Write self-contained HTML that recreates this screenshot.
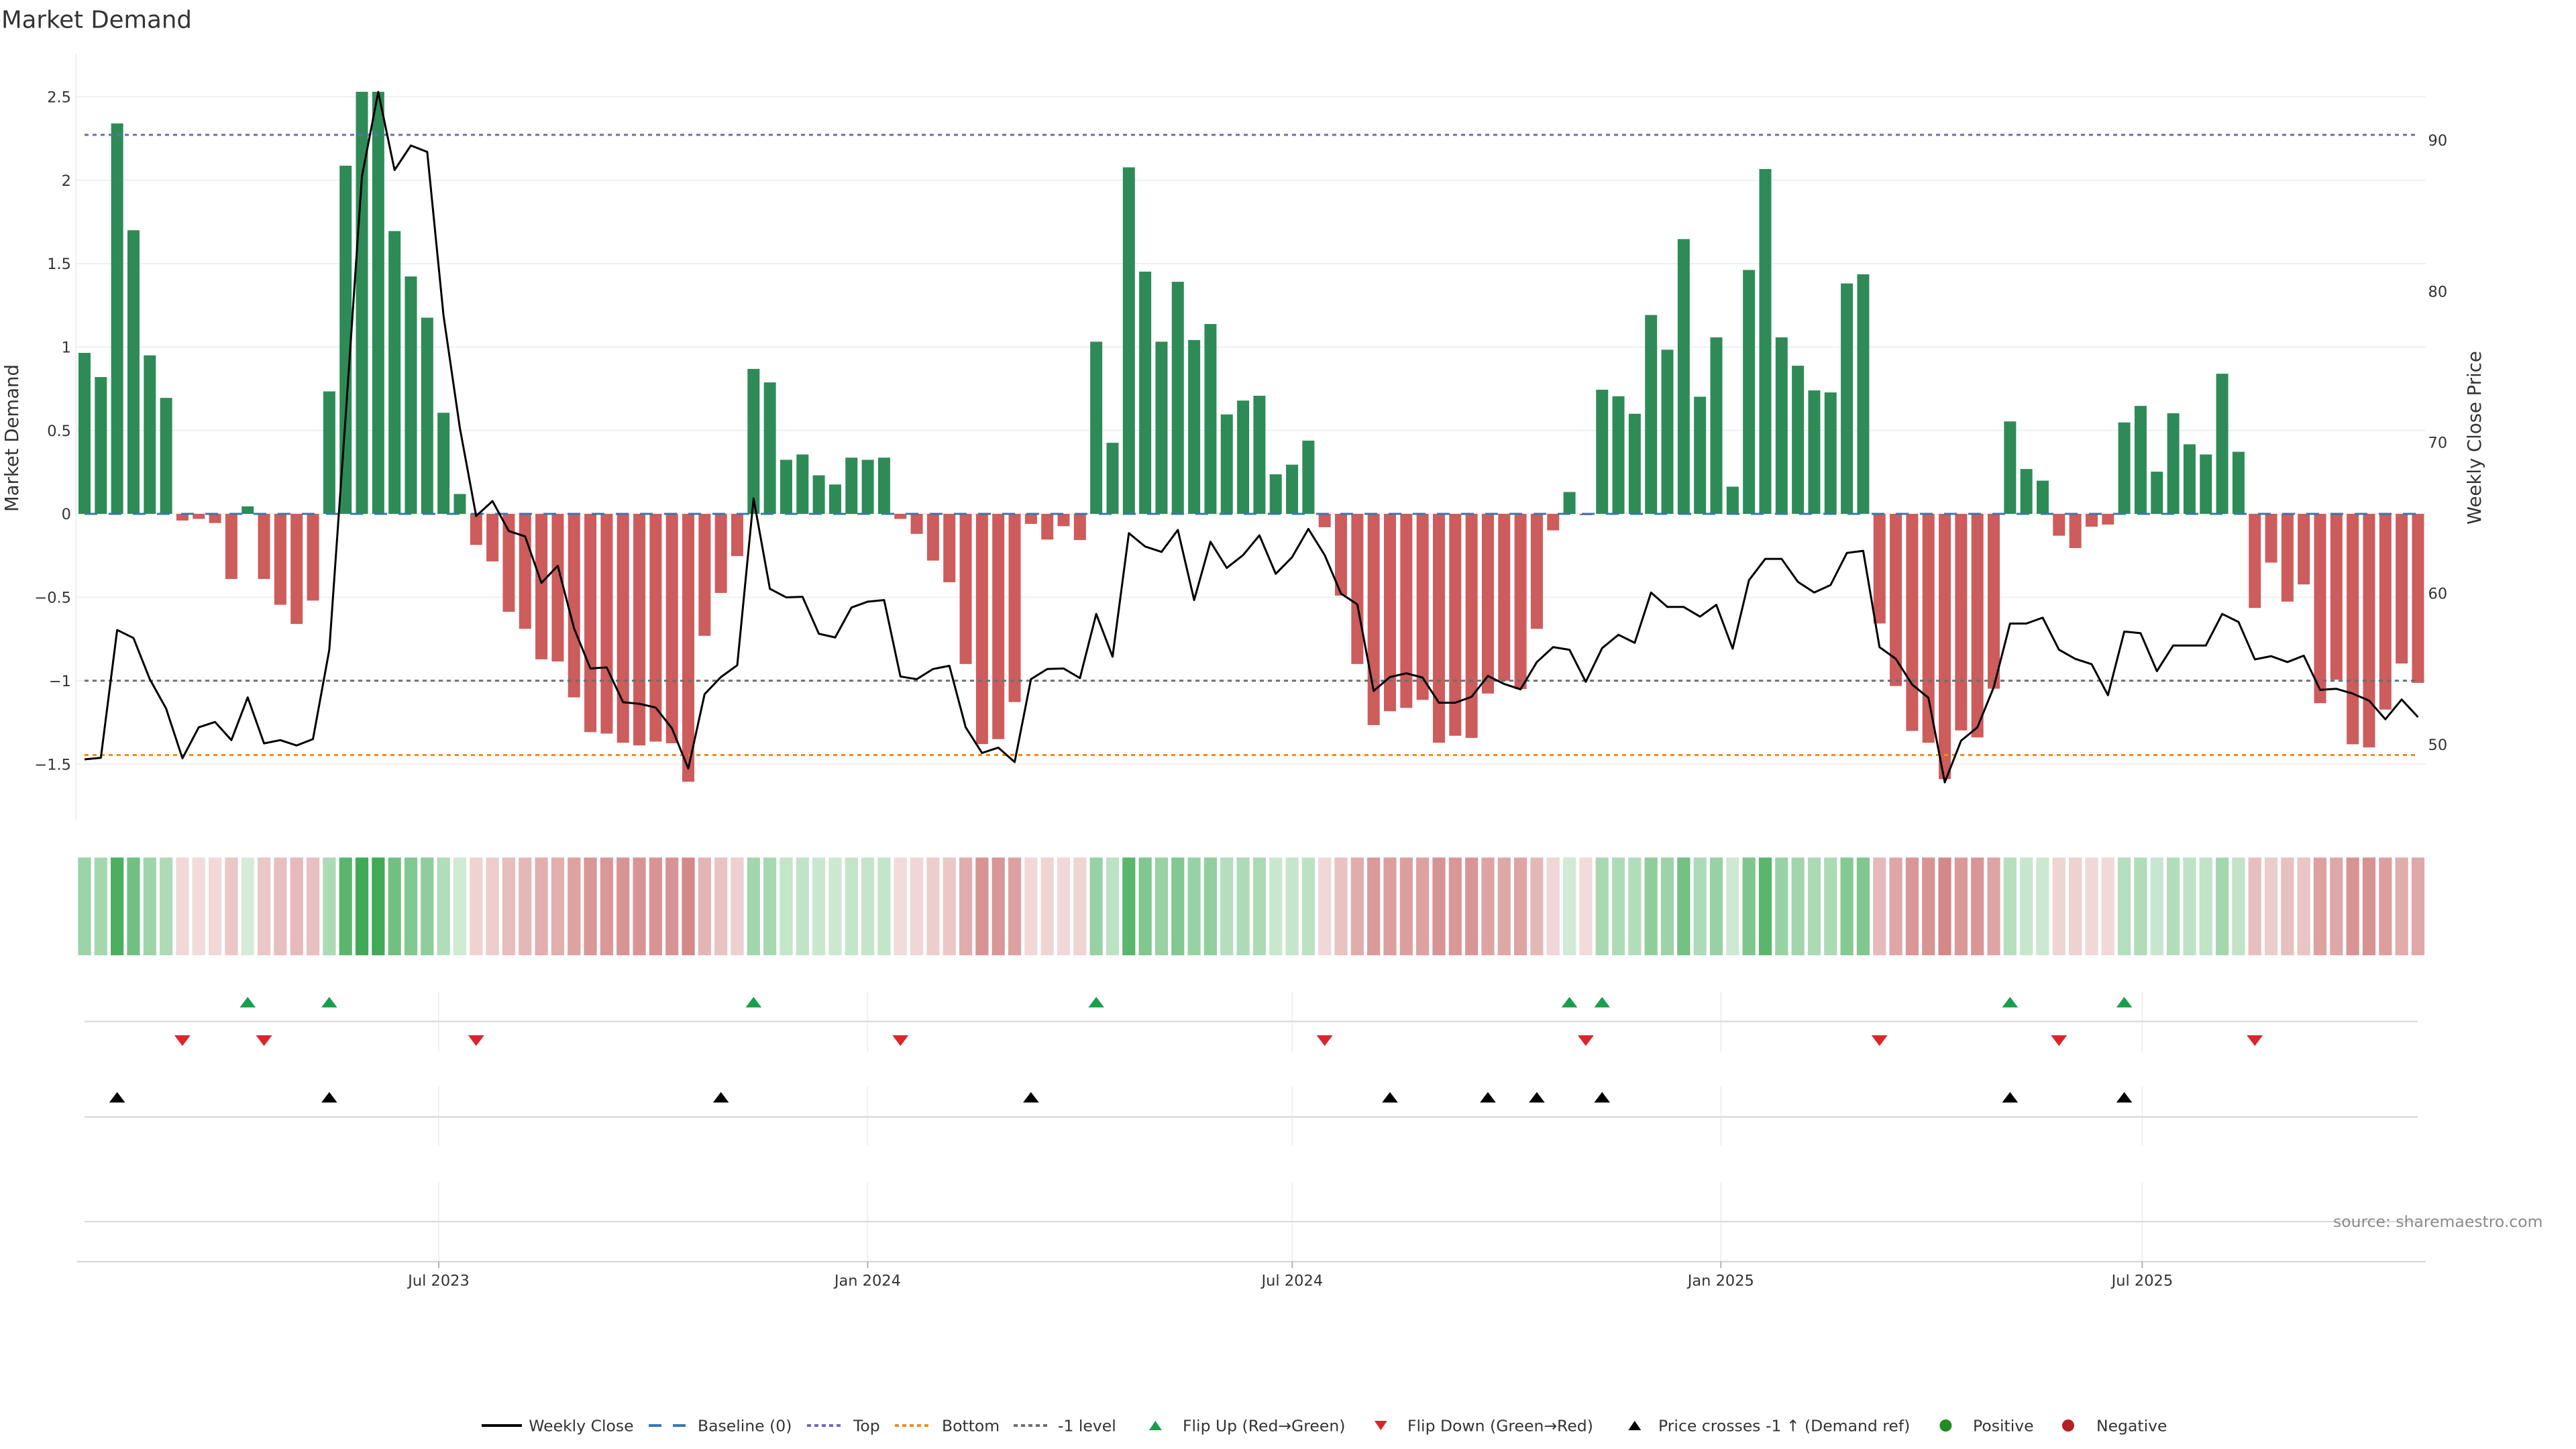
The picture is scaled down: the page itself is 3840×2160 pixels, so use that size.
<!DOCTYPE html>
<html><head><meta charset="utf-8"><style>html,body{margin:0;padding:0;background:#fff;}svg{display:block;}</style></head>
<body>
<svg xmlns="http://www.w3.org/2000/svg" width="3840" height="2160" viewBox="0 0 3840 2160" font-family="'DejaVu Sans','Liberation Sans',sans-serif">
<defs>
<path id="tu" d="M0,-7.85 L11.8,7.85 L-11.8,7.85Z"/>
<path id="td" d="M-12,-8 L12,-8 L0,8Z"/>
<path id="tuL" d="M0,-7 L9.5,7 L-9.5,7Z"/>
<path id="tdL" d="M-9.5,-7 L9.5,-7 L0,7Z"/>
</defs>
<rect width="3840" height="2160" fill="#fff"/>
<text x="2" y="41.5" font-size="35.5" fill="#333">Market Demand</text>

<!-- grid -->
<g stroke="#edf0f4" stroke-width="2">
<line x1="113.3" x2="3616" y1="144.25" y2="144.25"/>
<line x1="113.3" x2="3616" y1="268.6" y2="268.6"/>
<line x1="113.3" x2="3616" y1="392.95" y2="392.95"/>
<line x1="113.3" x2="3616" y1="517.3" y2="517.3"/>
<line x1="113.3" x2="3616" y1="641.65" y2="641.65"/>
<line x1="113.3" x2="3616" y1="766" y2="766"/>
<line x1="113.3" x2="3616" y1="890.35" y2="890.35"/>
<line x1="113.3" x2="3616" y1="1014.7" y2="1014.7"/>
<line x1="113.3" x2="3616" y1="1139.05" y2="1139.05"/>
<line x1="113.3" x2="113.3" y1="79.7" y2="1222"/>
</g>

<!-- left ticks -->
<g font-size="22.5" fill="#333" text-anchor="end">
<text x="106" y="152.5">2.5</text>
<text x="106" y="276.8">2</text>
<text x="106" y="401.2">1.5</text>
<text x="106" y="525.5">1</text>
<text x="106" y="649.9">0.5</text>
<text x="106" y="774.2">0</text>
<text x="106" y="898.6">−0.5</text>
<text x="106" y="1022.9">−1</text>
<text x="106" y="1147.3">−1.5</text>
</g>
<!-- right ticks -->
<g font-size="22.5" fill="#333">
<text x="3619.5" y="217.1">90</text>
<text x="3619.5" y="442.3">80</text>
<text x="3619.5" y="667.5">70</text>
<text x="3619.5" y="892.7">60</text>
<text x="3619.5" y="1117.9">50</text>
</g>
<text transform="translate(27,653) rotate(-90)" text-anchor="middle" font-size="27.5" fill="#333">Market Demand</text>
<text transform="translate(3698,652.6) rotate(-90)" text-anchor="middle" font-size="27.5" fill="#333">Weekly Close Price</text>

<!-- bars -->
<g transform="matrix(24.325 0 0 -248.7 101.675 766)">
<g fill="#2e8b57">
<rect x="0.63" width=".74" height=".965"/>
<rect x="1.63" width=".74" height=".82"/>
<rect x="2.63" width=".74" height="2.34"/>
<rect x="3.63" width=".74" height="1.70"/>
<rect x="4.63" width=".74" height=".95"/>
<rect x="5.63" width=".74" height=".695"/>
<rect x="10.63" width=".74" height=".045"/>
<rect x="15.63" width=".74" height=".734"/>
<rect x="16.63" width=".74" height="2.087"/>
<rect x="17.63" width=".74" height="2.53"/>
<rect x="18.63" width=".74" height="2.53"/>
<rect x="19.63" width=".74" height="1.695"/>
<rect x="20.63" width=".74" height="1.423"/>
<rect x="21.63" width=".74" height="1.176"/>
<rect x="22.63" width=".74" height=".606"/>
<rect x="23.63" width=".74" height=".119"/>
<rect x="41.63" width=".74" height=".869"/>
<rect x="42.63" width=".74" height=".788"/>
<rect x="43.63" width=".74" height=".324"/>
<rect x="44.63" width=".74" height=".356"/>
<rect x="45.63" width=".74" height=".231"/>
<rect x="46.63" width=".74" height=".176"/>
<rect x="47.63" width=".74" height=".337"/>
<rect x="48.63" width=".74" height=".324"/>
<rect x="49.63" width=".74" height=".337"/>
<rect x="62.63" width=".74" height="1.032"/>
<rect x="63.63" width=".74" height=".426"/>
<rect x="64.63" width=".74" height="2.077"/>
<rect x="65.63" width=".74" height="1.452"/>
<rect x="66.63" width=".74" height="1.032"/>
<rect x="67.63" width=".74" height="1.391"/>
<rect x="68.63" width=".74" height="1.042"/>
<rect x="69.63" width=".74" height="1.138"/>
<rect x="70.63" width=".74" height=".596"/>
<rect x="71.63" width=".74" height=".679"/>
<rect x="72.63" width=".74" height=".708"/>
<rect x="73.63" width=".74" height=".237"/>
<rect x="74.63" width=".74" height=".295"/>
<rect x="75.63" width=".74" height=".439"/>
<rect x="91.63" width=".74" height=".131"/>
<rect x="93.63" width=".74" height=".744"/>
<rect x="94.63" width=".74" height=".705"/>
<rect x="95.63" width=".74" height=".6"/>
<rect x="96.63" width=".74" height="1.192"/>
<rect x="97.63" width=".74" height=".984"/>
<rect x="98.63" width=".74" height="1.647"/>
<rect x="99.63" width=".74" height=".702"/>
<rect x="100.63" width=".74" height="1.058"/>
<rect x="101.63" width=".74" height=".163"/>
<rect x="102.63" width=".74" height="1.462"/>
<rect x="103.63" width=".74" height="2.067"/>
<rect x="104.63" width=".74" height="1.058"/>
<rect x="105.63" width=".74" height=".888"/>
<rect x="106.63" width=".74" height=".74"/>
<rect x="107.63" width=".74" height=".728"/>
<rect x="108.63" width=".74" height="1.381"/>
<rect x="109.63" width=".74" height="1.436"/>
<rect x="118.63" width=".74" height=".554"/>
<rect x="119.63" width=".74" height=".269"/>
<rect x="120.63" width=".74" height=".199"/>
<rect x="125.63" width=".74" height=".548"/>
<rect x="126.63" width=".74" height=".647"/>
<rect x="127.63" width=".74" height=".253"/>
<rect x="128.63" width=".74" height=".603"/>
<rect x="129.63" width=".74" height=".417"/>
<rect x="130.63" width=".74" height=".356"/>
<rect x="131.63" width=".74" height=".84"/>
<rect x="132.63" width=".74" height=".372"/>
</g>
<g fill="#cd5c5c">
<rect x="6.63" y="-.04" width=".74" height=".04"/>
<rect x="7.63" y="-.03" width=".74" height=".03"/>
<rect x="8.63" y="-.055" width=".74" height=".055"/>
<rect x="9.63" y="-.39" width=".74" height=".39"/>
<rect x="11.63" y="-.39" width=".74" height=".39"/>
<rect x="12.63" y="-.545" width=".74" height=".545"/>
<rect x="13.63" y="-.66" width=".74" height=".66"/>
<rect x="14.63" y="-.52" width=".74" height=".52"/>
<rect x="24.63" y="-.186" width=".74" height=".186"/>
<rect x="25.63" y="-.285" width=".74" height=".285"/>
<rect x="26.63" y="-.587" width=".74" height=".587"/>
<rect x="27.63" y="-.689" width=".74" height=".689"/>
<rect x="28.63" y="-.872" width=".74" height=".872"/>
<rect x="29.63" y="-.885" width=".74" height=".885"/>
<rect x="30.63" y="-1.10" width=".74" height="1.10"/>
<rect x="31.63" y="-1.308" width=".74" height="1.308"/>
<rect x="32.63" y="-1.317" width=".74" height="1.317"/>
<rect x="33.63" y="-1.372" width=".74" height="1.372"/>
<rect x="34.63" y="-1.388" width=".74" height="1.388"/>
<rect x="35.63" y="-1.365" width=".74" height="1.365"/>
<rect x="36.63" y="-1.375" width=".74" height="1.375"/>
<rect x="37.63" y="-1.606" width=".74" height="1.606"/>
<rect x="38.63" y="-.731" width=".74" height=".731"/>
<rect x="39.63" y="-.474" width=".74" height=".474"/>
<rect x="40.63" y="-.253" width=".74" height=".253"/>
<rect x="50.63" y="-.03" width=".74" height=".03"/>
<rect x="51.63" y="-.12" width=".74" height=".12"/>
<rect x="52.63" y="-.28" width=".74" height=".28"/>
<rect x="53.63" y="-.41" width=".74" height=".41"/>
<rect x="54.63" y="-.90" width=".74" height=".90"/>
<rect x="55.63" y="-1.38" width=".74" height="1.38"/>
<rect x="56.63" y="-1.35" width=".74" height="1.35"/>
<rect x="57.63" y="-1.128" width=".74" height="1.128"/>
<rect x="58.63" y="-.06" width=".74" height=".06"/>
<rect x="59.63" y="-.154" width=".74" height=".154"/>
<rect x="60.63" y="-.074" width=".74" height=".074"/>
<rect x="61.63" y="-.157" width=".74" height=".157"/>
<rect x="76.63" y="-.08" width=".74" height=".08"/>
<rect x="77.63" y="-.49" width=".74" height=".49"/>
<rect x="78.63" y="-.90" width=".74" height=".90"/>
<rect x="79.63" y="-1.266" width=".74" height="1.266"/>
<rect x="80.63" y="-1.183" width=".74" height="1.183"/>
<rect x="81.63" y="-1.163" width=".74" height="1.163"/>
<rect x="82.63" y="-1.115" width=".74" height="1.115"/>
<rect x="83.63" y="-1.372" width=".74" height="1.372"/>
<rect x="84.63" y="-1.33" width=".74" height="1.33"/>
<rect x="85.63" y="-1.343" width=".74" height="1.343"/>
<rect x="86.63" y="-1.077" width=".74" height="1.077"/>
<rect x="87.63" y="-1.0" width=".74" height="1.0"/>
<rect x="88.63" y="-1.05" width=".74" height="1.05"/>
<rect x="89.63" y="-.689" width=".74" height=".689"/>
<rect x="90.63" y="-.099" width=".74" height=".099"/>
<rect x="92.63" y="-.008" width=".74" height=".008"/>
<rect x="110.63" y="-.657" width=".74" height=".657"/>
<rect x="111.63" y="-1.032" width=".74" height="1.032"/>
<rect x="112.63" y="-1.301" width=".74" height="1.301"/>
<rect x="113.63" y="-1.372" width=".74" height="1.372"/>
<rect x="114.63" y="-1.59" width=".74" height="1.59"/>
<rect x="115.63" y="-1.298" width=".74" height="1.298"/>
<rect x="116.63" y="-1.34" width=".74" height="1.34"/>
<rect x="117.63" y="-1.048" width=".74" height="1.048"/>
<rect x="121.63" y="-.131" width=".74" height=".131"/>
<rect x="122.63" y="-.205" width=".74" height=".205"/>
<rect x="123.63" y="-.077" width=".74" height=".077"/>
<rect x="124.63" y="-.064" width=".74" height=".064"/>
<rect x="133.63" y="-.564" width=".74" height=".564"/>
<rect x="134.63" y="-.292" width=".74" height=".292"/>
<rect x="135.63" y="-.526" width=".74" height=".526"/>
<rect x="136.63" y="-.423" width=".74" height=".423"/>
<rect x="137.63" y="-1.135" width=".74" height="1.135"/>
<rect x="138.63" y="-.994" width=".74" height=".994"/>
<rect x="139.63" y="-1.381" width=".74" height="1.381"/>
<rect x="140.63" y="-1.40" width=".74" height="1.40"/>
<rect x="141.63" y="-1.173" width=".74" height="1.173"/>
<rect x="142.63" y="-.897" width=".74" height=".897"/>
<rect x="143.63" y="-1.013" width=".74" height="1.013"/>
</g>
</g>

<!-- reference lines -->
<line x1="126" x2="3604" y1="766" y2="766" stroke="#3579b1" stroke-width="3" stroke-dasharray="19 17"/>
<line x1="126" x2="3604" y1="201" y2="201" stroke="#7466b8" stroke-width="3" stroke-dasharray="6 6"/>
<line x1="126" x2="3604" y1="1125.5" y2="1125.5" stroke="#f28a1e" stroke-width="3" stroke-dasharray="6 6"/>
<line x1="126" x2="3604" y1="1014.7" y2="1014.7" stroke="#6e6e6e" stroke-width="3" stroke-dasharray="6 6"/>

<!-- price line -->
<g transform="matrix(24.325 0 0 0.79719 101.675 0)">
<polyline fill="none" stroke="#000" stroke-width="3" stroke-linejoin="round" vector-effect="non-scaling-stroke" points="1,1420 2,1417 3,1178 4,1193 5,1270 6,1325 7,1418 8,1360 9,1350 10,1384 11,1304 12,1390 13,1384 14,1394 15,1382 16,1215 17,780 18,330 19,172 20,318 21,272 22,284 23,590 24,800 25,965 26,937 27,993 28,1003 29,1090 30,1058 31,1175 32,1250 33,1248 34,1313 35,1316 36,1323 37,1362 38,1437 39,1298 40,1266 41,1244 42,932 43,1101 44,1117 45,1116 46,1185 47,1192 48,1136 49,1125 50,1122 51,1265 52,1270 53,1251 54,1245 55,1360 56,1408 57,1398 58,1425 59,1270 60,1251 61,1250 62,1268 63,1148 64,1228 65,997 66,1022 67,1032 68,991 69,1122 70,1013 71,1062 72,1038 73,1001 74,1073 75,1042 76,989 77,1038 78,1110 79,1130 80,1292 81,1266 82,1259 83,1267 84,1314 85,1314 86,1303 87,1264 88,1279 89,1289 90,1238 91,1210 92,1215 93,1275 94,1212 95,1187 96,1202 97,1108 98,1135 99,1135 100,1153 101,1131 102,1213 103,1085 104,1045 105,1045 106,1088 107,1108 108,1094 109,1034 110,1030 111,1210 112,1232 113,1280 114,1305 115,1463 116,1385 117,1360 118,1285 119,1166 120,1166 121,1155 122,1215 123,1232 124,1242 125,1300 126,1181 127,1184 128,1255 129,1207 130,1207 131,1207 132,1148 133,1163 134,1233 135,1227 136,1238 137,1226 138,1290 139,1288 140,1297 141,1310 142,1345 143,1308 144,1341"/>
</g>

<!-- heatmap strip -->
<g transform="matrix(24.325 0 0 1 101.675 0)">
<g fill="#28a041">
<rect x="0.605" y="1278.3" width=".79" height="145.7" fill-opacity=".46"/>
<rect x="1.605" y="1278.3" width=".79" height="145.7" fill-opacity=".42"/>
<rect x="2.605" y="1278.3" width=".79" height="145.7" fill-opacity=".84"/>
<rect x="3.605" y="1278.3" width=".79" height="145.7" fill-opacity=".66"/>
<rect x="4.605" y="1278.3" width=".79" height="145.7" fill-opacity=".45"/>
<rect x="5.605" y="1278.3" width=".79" height="145.7" fill-opacity=".38"/>
<rect x="10.605" y="1278.3" width=".79" height="145.7" fill-opacity=".20"/>
<rect x="15.605" y="1278.3" width=".79" height="145.7" fill-opacity=".39"/>
<rect x="16.605" y="1278.3" width=".79" height="145.7" fill-opacity=".77"/>
<rect x="17.605" y="1278.3" width=".79" height="145.7" fill-opacity=".89"/>
<rect x="18.605" y="1278.3" width=".79" height="145.7" fill-opacity=".89"/>
<rect x="19.605" y="1278.3" width=".79" height="145.7" fill-opacity=".66"/>
<rect x="20.605" y="1278.3" width=".79" height="145.7" fill-opacity=".58"/>
<rect x="21.605" y="1278.3" width=".79" height="145.7" fill-opacity=".52"/>
<rect x="22.605" y="1278.3" width=".79" height="145.7" fill-opacity=".36"/>
<rect x="23.605" y="1278.3" width=".79" height="145.7" fill-opacity=".22"/>
<rect x="41.605" y="1278.3" width=".79" height="145.7" fill-opacity=".43"/>
<rect x="42.605" y="1278.3" width=".79" height="145.7" fill-opacity=".41"/>
<rect x="43.605" y="1278.3" width=".79" height="145.7" fill-opacity=".28"/>
<rect x="44.605" y="1278.3" width=".79" height="145.7" fill-opacity=".29"/>
<rect x="45.605" y="1278.3" width=".79" height="145.7" fill-opacity=".25"/>
<rect x="46.605" y="1278.3" width=".79" height="145.7" fill-opacity=".24"/>
<rect x="47.605" y="1278.3" width=".79" height="145.7" fill-opacity=".28"/>
<rect x="48.605" y="1278.3" width=".79" height="145.7" fill-opacity=".28"/>
<rect x="49.605" y="1278.3" width=".79" height="145.7" fill-opacity=".28"/>
<rect x="62.605" y="1278.3" width=".79" height="145.7" fill-opacity=".48"/>
<rect x="63.605" y="1278.3" width=".79" height="145.7" fill-opacity=".31"/>
<rect x="64.605" y="1278.3" width=".79" height="145.7" fill-opacity=".77"/>
<rect x="65.605" y="1278.3" width=".79" height="145.7" fill-opacity=".59"/>
<rect x="66.605" y="1278.3" width=".79" height="145.7" fill-opacity=".48"/>
<rect x="67.605" y="1278.3" width=".79" height="145.7" fill-opacity=".58"/>
<rect x="68.605" y="1278.3" width=".79" height="145.7" fill-opacity=".48"/>
<rect x="69.605" y="1278.3" width=".79" height="145.7" fill-opacity=".51"/>
<rect x="70.605" y="1278.3" width=".79" height="145.7" fill-opacity=".35"/>
<rect x="71.605" y="1278.3" width=".79" height="145.7" fill-opacity=".38"/>
<rect x="72.605" y="1278.3" width=".79" height="145.7" fill-opacity=".39"/>
<rect x="73.605" y="1278.3" width=".79" height="145.7" fill-opacity=".25"/>
<rect x="74.605" y="1278.3" width=".79" height="145.7" fill-opacity=".27"/>
<rect x="75.605" y="1278.3" width=".79" height="145.7" fill-opacity=".31"/>
<rect x="91.605" y="1278.3" width=".79" height="145.7" fill-opacity=".22"/>
<rect x="93.605" y="1278.3" width=".79" height="145.7" fill-opacity=".40"/>
<rect x="94.605" y="1278.3" width=".79" height="145.7" fill-opacity=".38"/>
<rect x="95.605" y="1278.3" width=".79" height="145.7" fill-opacity=".36"/>
<rect x="96.605" y="1278.3" width=".79" height="145.7" fill-opacity=".52"/>
<rect x="97.605" y="1278.3" width=".79" height="145.7" fill-opacity=".46"/>
<rect x="98.605" y="1278.3" width=".79" height="145.7" fill-opacity=".65"/>
<rect x="99.605" y="1278.3" width=".79" height="145.7" fill-opacity=".38"/>
<rect x="100.605" y="1278.3" width=".79" height="145.7" fill-opacity=".48"/>
<rect x="101.605" y="1278.3" width=".79" height="145.7" fill-opacity=".23"/>
<rect x="102.605" y="1278.3" width=".79" height="145.7" fill-opacity=".60"/>
<rect x="103.605" y="1278.3" width=".79" height="145.7" fill-opacity=".77"/>
<rect x="104.605" y="1278.3" width=".79" height="145.7" fill-opacity=".48"/>
<rect x="105.605" y="1278.3" width=".79" height="145.7" fill-opacity=".44"/>
<rect x="106.605" y="1278.3" width=".79" height="145.7" fill-opacity=".39"/>
<rect x="107.605" y="1278.3" width=".79" height="145.7" fill-opacity=".39"/>
<rect x="108.605" y="1278.3" width=".79" height="145.7" fill-opacity=".57"/>
<rect x="109.605" y="1278.3" width=".79" height="145.7" fill-opacity=".59"/>
<rect x="118.605" y="1278.3" width=".79" height="145.7" fill-opacity=".34"/>
<rect x="119.605" y="1278.3" width=".79" height="145.7" fill-opacity=".26"/>
<rect x="120.605" y="1278.3" width=".79" height="145.7" fill-opacity=".24"/>
<rect x="125.605" y="1278.3" width=".79" height="145.7" fill-opacity=".34"/>
<rect x="126.605" y="1278.3" width=".79" height="145.7" fill-opacity=".37"/>
<rect x="127.605" y="1278.3" width=".79" height="145.7" fill-opacity=".26"/>
<rect x="128.605" y="1278.3" width=".79" height="145.7" fill-opacity=".36"/>
<rect x="129.605" y="1278.3" width=".79" height="145.7" fill-opacity=".30"/>
<rect x="130.605" y="1278.3" width=".79" height="145.7" fill-opacity=".29"/>
<rect x="131.605" y="1278.3" width=".79" height="145.7" fill-opacity=".42"/>
<rect x="132.605" y="1278.3" width=".79" height="145.7" fill-opacity=".29"/>
</g>
<g fill="#c35a5a">
<rect x="6.605" y="1278.3" width=".79" height="145.7" fill-opacity=".23"/>
<rect x="7.605" y="1278.3" width=".79" height="145.7" fill-opacity=".22"/>
<rect x="8.605" y="1278.3" width=".79" height="145.7" fill-opacity=".23"/>
<rect x="9.605" y="1278.3" width=".79" height="145.7" fill-opacity=".34"/>
<rect x="11.605" y="1278.3" width=".79" height="145.7" fill-opacity=".34"/>
<rect x="12.605" y="1278.3" width=".79" height="145.7" fill-opacity=".39"/>
<rect x="13.605" y="1278.3" width=".79" height="145.7" fill-opacity=".42"/>
<rect x="14.605" y="1278.3" width=".79" height="145.7" fill-opacity=".38"/>
<rect x="24.605" y="1278.3" width=".79" height="145.7" fill-opacity=".27"/>
<rect x="25.605" y="1278.3" width=".79" height="145.7" fill-opacity=".30"/>
<rect x="26.605" y="1278.3" width=".79" height="145.7" fill-opacity=".40"/>
<rect x="27.605" y="1278.3" width=".79" height="145.7" fill-opacity=".43"/>
<rect x="28.605" y="1278.3" width=".79" height="145.7" fill-opacity=".49"/>
<rect x="29.605" y="1278.3" width=".79" height="145.7" fill-opacity=".49"/>
<rect x="30.605" y="1278.3" width=".79" height="145.7" fill-opacity=".56"/>
<rect x="31.605" y="1278.3" width=".79" height="145.7" fill-opacity=".63"/>
<rect x="32.605" y="1278.3" width=".79" height="145.7" fill-opacity=".63"/>
<rect x="33.605" y="1278.3" width=".79" height="145.7" fill-opacity=".65"/>
<rect x="34.605" y="1278.3" width=".79" height="145.7" fill-opacity=".65"/>
<rect x="35.605" y="1278.3" width=".79" height="145.7" fill-opacity=".65"/>
<rect x="36.605" y="1278.3" width=".79" height="145.7" fill-opacity=".65"/>
<rect x="37.605" y="1278.3" width=".79" height="145.7" fill-opacity=".72"/>
<rect x="38.605" y="1278.3" width=".79" height="145.7" fill-opacity=".45"/>
<rect x="39.605" y="1278.3" width=".79" height="145.7" fill-opacity=".36"/>
<rect x="40.605" y="1278.3" width=".79" height="145.7" fill-opacity=".29"/>
<rect x="50.605" y="1278.3" width=".79" height="145.7" fill-opacity=".22"/>
<rect x="51.605" y="1278.3" width=".79" height="145.7" fill-opacity=".25"/>
<rect x="52.605" y="1278.3" width=".79" height="145.7" fill-opacity=".30"/>
<rect x="53.605" y="1278.3" width=".79" height="145.7" fill-opacity=".34"/>
<rect x="54.605" y="1278.3" width=".79" height="145.7" fill-opacity=".50"/>
<rect x="55.605" y="1278.3" width=".79" height="145.7" fill-opacity=".65"/>
<rect x="56.605" y="1278.3" width=".79" height="145.7" fill-opacity=".64"/>
<rect x="57.605" y="1278.3" width=".79" height="145.7" fill-opacity=".57"/>
<rect x="58.605" y="1278.3" width=".79" height="145.7" fill-opacity=".23"/>
<rect x="59.605" y="1278.3" width=".79" height="145.7" fill-opacity=".26"/>
<rect x="60.605" y="1278.3" width=".79" height="145.7" fill-opacity=".24"/>
<rect x="61.605" y="1278.3" width=".79" height="145.7" fill-opacity=".26"/>
<rect x="76.605" y="1278.3" width=".79" height="145.7" fill-opacity=".24"/>
<rect x="77.605" y="1278.3" width=".79" height="145.7" fill-opacity=".37"/>
<rect x="78.605" y="1278.3" width=".79" height="145.7" fill-opacity=".50"/>
<rect x="79.605" y="1278.3" width=".79" height="145.7" fill-opacity=".61"/>
<rect x="80.605" y="1278.3" width=".79" height="145.7" fill-opacity=".59"/>
<rect x="81.605" y="1278.3" width=".79" height="145.7" fill-opacity=".58"/>
<rect x="82.605" y="1278.3" width=".79" height="145.7" fill-opacity=".57"/>
<rect x="83.605" y="1278.3" width=".79" height="145.7" fill-opacity=".65"/>
<rect x="84.605" y="1278.3" width=".79" height="145.7" fill-opacity=".63"/>
<rect x="85.605" y="1278.3" width=".79" height="145.7" fill-opacity=".64"/>
<rect x="86.605" y="1278.3" width=".79" height="145.7" fill-opacity=".55"/>
<rect x="87.605" y="1278.3" width=".79" height="145.7" fill-opacity=".53"/>
<rect x="88.605" y="1278.3" width=".79" height="145.7" fill-opacity=".55"/>
<rect x="89.605" y="1278.3" width=".79" height="145.7" fill-opacity=".43"/>
<rect x="90.605" y="1278.3" width=".79" height="145.7" fill-opacity=".25"/>
<rect x="92.605" y="1278.3" width=".79" height="145.7" fill-opacity=".22"/>
<rect x="110.605" y="1278.3" width=".79" height="145.7" fill-opacity=".42"/>
<rect x="111.605" y="1278.3" width=".79" height="145.7" fill-opacity=".54"/>
<rect x="112.605" y="1278.3" width=".79" height="145.7" fill-opacity=".63"/>
<rect x="113.605" y="1278.3" width=".79" height="145.7" fill-opacity=".65"/>
<rect x="114.605" y="1278.3" width=".79" height="145.7" fill-opacity=".72"/>
<rect x="115.605" y="1278.3" width=".79" height="145.7" fill-opacity=".62"/>
<rect x="116.605" y="1278.3" width=".79" height="145.7" fill-opacity=".64"/>
<rect x="117.605" y="1278.3" width=".79" height="145.7" fill-opacity=".55"/>
<rect x="121.605" y="1278.3" width=".79" height="145.7" fill-opacity=".26"/>
<rect x="122.605" y="1278.3" width=".79" height="145.7" fill-opacity=".28"/>
<rect x="123.605" y="1278.3" width=".79" height="145.7" fill-opacity=".24"/>
<rect x="124.605" y="1278.3" width=".79" height="145.7" fill-opacity=".23"/>
<rect x="133.605" y="1278.3" width=".79" height="145.7" fill-opacity=".39"/>
<rect x="134.605" y="1278.3" width=".79" height="145.7" fill-opacity=".31"/>
<rect x="135.605" y="1278.3" width=".79" height="145.7" fill-opacity=".38"/>
<rect x="136.605" y="1278.3" width=".79" height="145.7" fill-opacity=".35"/>
<rect x="137.605" y="1278.3" width=".79" height="145.7" fill-opacity=".57"/>
<rect x="138.605" y="1278.3" width=".79" height="145.7" fill-opacity=".53"/>
<rect x="139.605" y="1278.3" width=".79" height="145.7" fill-opacity=".65"/>
<rect x="140.605" y="1278.3" width=".79" height="145.7" fill-opacity=".66"/>
<rect x="141.605" y="1278.3" width=".79" height="145.7" fill-opacity=".58"/>
<rect x="142.605" y="1278.3" width=".79" height="145.7" fill-opacity=".50"/>
<rect x="143.605" y="1278.3" width=".79" height="145.7" fill-opacity=".53"/>
</g>
</g>

<!-- marker subplots: vertical grid -->
<g stroke="#eef0f4" stroke-width="2">
<line x1="654" x2="654" y1="1478" y2="1567.5"/><line x1="1293.4" x2="1293.4" y1="1478" y2="1567.5"/><line x1="1926.3" x2="1926.3" y1="1478" y2="1567.5"/><line x1="2565.3" x2="2565.3" y1="1478" y2="1567.5"/><line x1="3193.4" x2="3193.4" y1="1478" y2="1567.5"/>
<line x1="654" x2="654" y1="1619" y2="1707.5"/><line x1="1293.4" x2="1293.4" y1="1619" y2="1707.5"/><line x1="1926.3" x2="1926.3" y1="1619" y2="1707.5"/><line x1="2565.3" x2="2565.3" y1="1619" y2="1707.5"/><line x1="3193.4" x2="3193.4" y1="1619" y2="1707.5"/>
<line x1="654" x2="654" y1="1762.6" y2="1880.6"/><line x1="1293.4" x2="1293.4" y1="1762.6" y2="1880.6"/><line x1="1926.3" x2="1926.3" y1="1762.6" y2="1880.6"/><line x1="2565.3" x2="2565.3" y1="1762.6" y2="1880.6"/><line x1="3193.4" x2="3193.4" y1="1762.6" y2="1880.6"/>
</g>
<g stroke="#d9d9d9" stroke-width="2.2">
<line x1="126" x2="3604" y1="1522.7" y2="1522.7"/>
<line x1="126" x2="3604" y1="1665" y2="1665"/>
<line x1="126" x2="3604" y1="1821" y2="1821"/>
</g>
<line x1="114.4" x2="3616" y1="1880.7" y2="1880.7" stroke="#d2d2d2" stroke-width="2.2"/>
<g stroke="#b0b0b0" stroke-width="2">
<line x1="654" x2="654" y1="1880.7" y2="1890"/><line x1="1293.4" x2="1293.4" y1="1880.7" y2="1890"/><line x1="1926.3" x2="1926.3" y1="1880.7" y2="1890"/><line x1="2565.3" x2="2565.3" y1="1880.7" y2="1890"/><line x1="3193.4" x2="3193.4" y1="1880.7" y2="1890"/>
</g>
<g font-size="22.5" fill="#333" text-anchor="middle">
<text x="654" y="1916.7">Jul 2023</text>
<text x="1293.4" y="1916.7">Jan 2024</text>
<text x="1926.3" y="1916.7">Jul 2024</text>
<text x="2565.3" y="1916.7">Jan 2025</text>
<text x="3193.4" y="1916.7">Jul 2025</text>
</g>

<!-- flip up markers -->
<g fill="#1a9e4c">
<use href="#tu" x="369.25" y="1493.85"/>
<use href="#tu" x="490.875" y="1493.85"/>
<use href="#tu" x="1123.325" y="1493.85"/>
<use href="#tu" x="1634.15" y="1493.85"/>
<use href="#tu" x="2339.575" y="1493.85"/>
<use href="#tu" x="2388.225" y="1493.85"/>
<use href="#tu" x="2996.35" y="1493.85"/>
<use href="#tu" x="3166.625" y="1493.85"/>
</g>
<!-- flip down markers -->
<g fill="#d9262b">
<use href="#td" x="271.95" y="1551.3"/>
<use href="#td" x="393.575" y="1551.3"/>
<use href="#td" x="709.8" y="1551.3"/>
<use href="#td" x="1342.25" y="1551.3"/>
<use href="#td" x="1974.7" y="1551.3"/>
<use href="#td" x="2363.9" y="1551.3"/>
<use href="#td" x="2801.75" y="1551.3"/>
<use href="#td" x="3069.325" y="1551.3"/>
<use href="#td" x="3361.225" y="1551.3"/>
</g>
<!-- price crosses markers -->
<g fill="#000">
<use href="#tu" x="174.65" y="1635.7"/>
<use href="#tu" x="490.875" y="1635.7"/>
<use href="#tu" x="1074.675" y="1635.7"/>
<use href="#tu" x="1536.85" y="1635.7"/>
<use href="#tu" x="2072.0" y="1635.7"/>
<use href="#tu" x="2217.95" y="1635.7"/>
<use href="#tu" x="2290.925" y="1635.7"/>
<use href="#tu" x="2388.225" y="1635.7"/>
<use href="#tu" x="2996.35" y="1635.7"/>
<use href="#tu" x="3166.625" y="1635.7"/>
</g>

<text x="3790.5" y="1829" font-size="23.5" fill="#8a8a8a" text-anchor="end">source: sharemaestro.com</text>

<!-- legend -->
<line x1="718" x2="778" y1="2125" y2="2125" stroke="#000" stroke-width="4"/>
<line x1="967" x2="1022" y1="2125" y2="2125" stroke="#3579b1" stroke-width="4" stroke-dasharray="19 17"/>
<line x1="1203" x2="1255" y1="2125" y2="2125" stroke="#7466b8" stroke-width="4" stroke-dasharray="6 5"/>
<line x1="1334" x2="1387" y1="2125" y2="2125" stroke="#f28a1e" stroke-width="4" stroke-dasharray="6 5"/>
<line x1="1511" x2="1563" y1="2125" y2="2125" stroke="#6e6e6e" stroke-width="4" stroke-dasharray="6 5"/>
<use href="#tuL" x="1722.4" y="2125" fill="#1a9e4c"/>
<use href="#tdL" x="2058.4" y="2125" fill="#d9262b"/>
<use href="#tuL" x="2436.8" y="2125" fill="#000"/>
<circle cx="2900.4" cy="2125" r="9" fill="#228b22"/>
<circle cx="3083" cy="2125" r="9" fill="#b22222"/>
<g font-size="23.5" fill="#333">
<text x="788.3" y="2133.5">Weekly Close</text>
<text x="1040" y="2133.5">Baseline (0)</text>
<text x="1272" y="2133.5">Top</text>
<text x="1404" y="2133.5">Bottom</text>
<text x="1577" y="2133.5">-1 level</text>
<text x="1763" y="2133.5">Flip Up (Red→Green)</text>
<text x="2098" y="2133.5">Flip Down (Green→Red)</text>
<text x="2472" y="2133.5">Price crosses -1 ↑ (Demand ref)</text>
<text x="2941" y="2133.5">Positive</text>
<text x="3125" y="2133.5">Negative</text>
</g>
</svg>
</body></html>
